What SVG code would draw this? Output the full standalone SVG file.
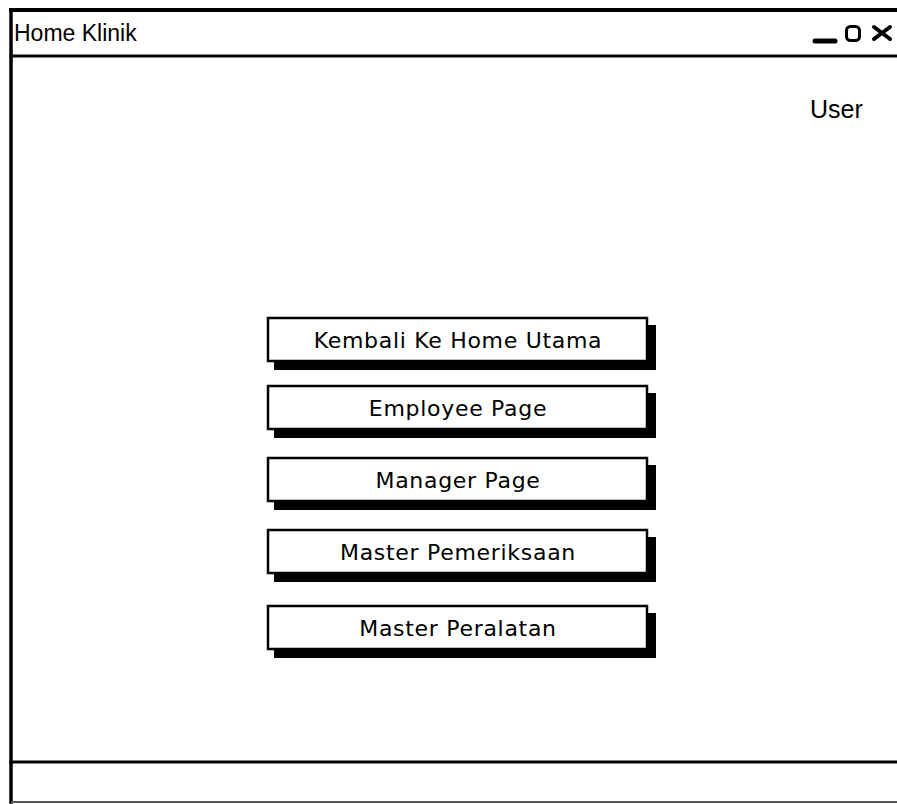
<svg xmlns="http://www.w3.org/2000/svg" width="897" height="804" viewBox="0 0 897 804">
  <style>
    .frame { stroke: #000; fill: none; stroke-linecap: square; }
    .title { font-family: "Liberation Sans", Arial, sans-serif; font-size: 23px; fill: #000; }
    .user { font-size: 25px; }
    .btn-shadow { fill: #000; }
    .btn-face { fill: #fff; stroke: #000; stroke-width: 2.5; }
    .btn-label { font-family: "DejaVu Sans", "Noto Sans", sans-serif; font-size: 22px; letter-spacing: 0.7px; fill: #000; text-anchor: middle; }
  </style>
  <rect x="0" y="0" width="897" height="804" fill="#fff"/>

  <g id="window">
    <line class="frame" x1="11" y1="10" x2="11" y2="802" stroke-width="3.5"/>
    <line class="frame" x1="11" y1="10" x2="897" y2="10" stroke-width="4"/>
    <line class="frame" x1="11" y1="56" x2="897" y2="56" stroke-width="3"/>
    <line class="frame" x1="11" y1="762" x2="897" y2="762" stroke-width="3"/>
    <line x1="11" y1="802" x2="897" y2="802" stroke="#555" stroke-width="2"/>
    <text class="title" x="14" y="41">Home Klinik</text>
  </g>

  <g id="window-controls">
    <line x1="815" y1="41" x2="835" y2="41" stroke="#000" stroke-width="5" stroke-linecap="round"/>
    <rect x="846.5" y="26.5" width="13" height="14" rx="4" fill="none" stroke="#000" stroke-width="3"/>
    <line x1="874" y1="27" x2="890" y2="39" stroke="#000" stroke-width="4" stroke-linecap="round"/>
    <line x1="874" y1="39" x2="890" y2="27" stroke="#000" stroke-width="4" stroke-linecap="round"/>
  </g>

  <g id="user-label">
    <text class="title user" x="810" y="118">User</text>
  </g>

  <g id="btn-kembali">
    <rect class="btn-shadow" x="274" y="325" width="382" height="45"/>
    <rect class="btn-face" x="268" y="318" width="379" height="43"/>
    <text class="btn-label" x="458" y="348">Kembali Ke Home Utama</text>
  </g>
  <g id="btn-employee">
    <rect class="btn-shadow" x="274" y="393" width="382" height="45"/>
    <rect class="btn-face" x="268" y="386" width="379" height="43"/>
    <text class="btn-label" x="458" y="416">Employee Page</text>
  </g>
  <g id="btn-manager">
    <rect class="btn-shadow" x="274" y="465" width="382" height="45"/>
    <rect class="btn-face" x="268" y="458" width="379" height="43"/>
    <text class="btn-label" x="458" y="488">Manager Page</text>
  </g>
  <g id="btn-pemeriksaan">
    <rect class="btn-shadow" x="274" y="537" width="382" height="45"/>
    <rect class="btn-face" x="268" y="530" width="379" height="43"/>
    <text class="btn-label" x="458" y="560">Master Pemeriksaan</text>
  </g>
  <g id="btn-peralatan">
    <rect class="btn-shadow" x="274" y="613" width="382" height="45"/>
    <rect class="btn-face" x="268" y="606" width="379" height="43"/>
    <text class="btn-label" x="458" y="636">Master Peralatan</text>
  </g>

  <g id="connectors"/>
</svg>
